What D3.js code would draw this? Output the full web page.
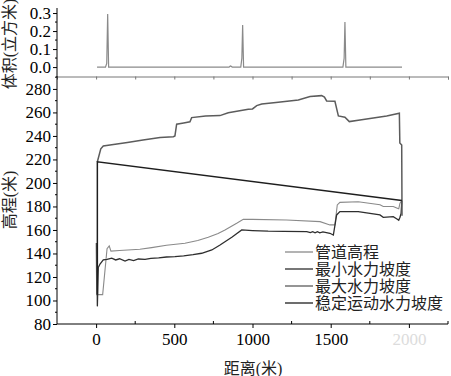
<!DOCTYPE html>
<html>
<head>
<meta charset="utf-8">
<script src="https://cdn.jsdelivr.net/npm/d3@7"></script>
<style>
  body { margin: 0; background: #fff; }
  svg { display: block; }
  text { font-family: 'Liberation Serif', 'Noto Sans CJK SC', serif; }
</style>
</head>
<body>
<div id="chart"></div>
<script>
// volume (top panel)
const volX = [6, 60, 68, 74, 80, 850, 858, 864, 870, 925, 932, 937, 943, 1578, 1586, 1591, 1597, 1956];
const volY = [0, 0, 0.02, 0.294, 0, 0, 0.006, 0.004, 0, 0, 0.05, 0.233, 0, 0, 0.05, 0.25, 0, 0];

// elevation series (bottom panel)
const pipeX = [0, 4, 42, 70, 84, 95, 150, 280, 355, 450, 568, 650, 717, 780, 824, 899, 941, 1000, 1218, 1432, 1495, 1527, 1542, 1559, 1676, 1815, 1836, 1900, 1926, 1935, 1943, 1955];
const pipeY = [149, 105, 105, 144, 146.4, 142, 142.5, 143.6, 145, 147, 148.7, 151, 153.8, 157, 160, 165.7, 169.1, 169, 168.5, 167.1, 164.3, 164.3, 181.3, 183.5, 184, 181.5, 180, 180, 178.5, 178, 182.7, 185];

const minX = [5, 8, 11, 14, 25, 46, 70, 100, 125, 150, 185, 210, 240, 270, 313, 350, 400, 450, 504, 560, 620, 675, 740, 790, 824, 870, 931, 1000, 1100, 1200, 1347, 1370, 1385, 1400, 1415, 1430, 1450, 1495, 1517, 1538, 1559, 1676, 1815, 1836, 1900, 1926, 1935, 1943, 1950, 1955];
const minY = [149, 95, 112, 128, 131, 134.5, 135, 136, 134.5, 135.5, 133.6, 135, 134, 135.3, 135, 135.8, 136.2, 137, 137.3, 138, 139, 140.2, 143, 147, 150, 154, 160, 159.5, 159, 158.8, 158.6, 157.8, 158.6, 157.6, 158.6, 157.5, 158.3, 157.2, 155.7, 172.8, 175.6, 175.6, 172.8, 170.8, 171.3, 169.1, 168.2, 170.8, 174, 185];

const maxX = [8, 14, 30, 46, 100, 200, 300, 409, 494, 504, 515, 560, 600, 611, 700, 792, 845, 973, 1000, 1027, 1059, 1150, 1293, 1368, 1442, 1460, 1474, 1527, 1549, 1591, 1619, 1687, 1858, 1939, 1942, 1954, 1956];
const maxY = [218, 221, 229, 231.5, 232.5, 234.5, 236.5, 238.6, 239.4, 240, 250, 251, 252, 255.6, 257, 257.3, 259.8, 262.7, 263, 265.8, 267.2, 268.5, 270.6, 273.5, 274.3, 273, 269.8, 269.5, 257, 256, 252.2, 253.6, 257, 259.3, 234, 232.3, 172];

const steadyX = [8, 8, 1955];
const steadyY = [105, 218, 185];

const legendNames = ['管道高程', '最小水力坡度', '最大水力坡度', '稳定运动水力坡度'];
const legendColors = ['#8a8a8a', '#2e2e2e', '#5c5c5c', '#1e1e1e'];

const xTicks = [0, 500, 1000, 1500, 2000];
const yTicks = [80, 100, 120, 140, 160, 180, 200, 220, 240, 260, 280];
const volTicks = [0, 0.1, 0.2, 0.3];

const W = 451, H = 376;
const svg = d3.select('#chart').append('svg').attr('width', W).attr('height', H);

const x = d3.scaleLinear().domain([-250, 2250]).range([57, 448]);
const y = d3.scaleLinear().domain([80, 291]).range([324, 76]);
const yv = d3.scaleLinear().domain([-0.055, 0.328]).range([77, 8]);

const zip = (a, b) => a.map((d, i) => [d, b[i]]);

// ---- top panel
const gTop = svg.append('g');
gTop.append('path')
  .datum(zip(volX, volY))
  .attr('fill', 'none')
  .attr('stroke', '#8a8a8a')
  .attr('stroke-width', 1.2)
  .attr('d', d3.line().x((d) => x(d[0])).y((d) => yv(d[1])));

const yvAxis = d3.axisLeft(yv).tickValues(volTicks).tickFormat(d3.format('.1f')).tickSize(4).tickPadding(2);
gTop.append('g').attr('transform', 'translate(57,0)').call(yvAxis)
  .call((g) => g.select('.domain').attr('d', 'M0,8V77'));
gTop.append('g').attr('transform', 'translate(57,0)')
  .selectAll('line').data([0.05, 0.15, 0.25]).join('line')
  .attr('x1', -2).attr('x2', 0).attr('y1', (d) => yv(d)).attr('y2', (d) => yv(d)).attr('stroke', '#000');

// top panel bottom axis (also lower panel top)
const topAxis = d3.axisBottom(x).tickValues(d3.range(0, 2251, 250)).tickFormat('').tickSizeOuter(0).tickSize(3);
gTop.append('g').attr('transform', 'translate(0,76.5)').call(topAxis)
  .call((g) => g.select('.domain').attr('stroke', '#777'))
  .call((g) => g.selectAll('.tick line').attr('stroke', '#777'));

gTop.append('text')
  .attr('transform', 'translate(15,44) rotate(-90)')
  .attr('text-anchor', 'middle')
  .attr('font-size', 16)
  .attr('fill', '#222')
  .text('体积(立方米)');

// ---- bottom panel
const line = d3.line().x((d) => x(d[0])).y((d) => y(d[1]));
const series = [
  { pts: zip(pipeX, pipeY), color: legendColors[0], w: 1.1 },
  { pts: zip(minX, minY), color: legendColors[1], w: 1.3 },
  { pts: zip(maxX, maxY), color: legendColors[2], w: 1.5 },
  { pts: zip(steadyX, steadyY), color: legendColors[3], w: 1.5 },
];
svg.append('g').selectAll('path').data(series).join('path')
  .attr('fill', 'none')
  .attr('stroke', (d) => d.color)
  .attr('stroke-width', (d) => d.w)
  .attr('d', (d) => line(d.pts));

const yAxis = d3.axisLeft(y).tickValues(yTicks).tickSize(4).tickPadding(2).tickSizeOuter(0);
svg.append('g').attr('transform', 'translate(57,0)').call(yAxis)
  .call((g) => g.select('.domain').attr('d', 'M0,76V324'));
svg.append('g').attr('transform', 'translate(57,0)')
  .selectAll('line').data(d3.range(90, 291, 20)).join('line')
  .attr('x1', -2).attr('x2', 0).attr('y1', (d) => y(d)).attr('y2', (d) => y(d)).attr('stroke', '#000');

const xAxis = d3.axisBottom(x).tickValues(xTicks).tickFormat(d3.format('d')).tickSize(4).tickPadding(5).tickSizeOuter(0);
svg.append('g').attr('transform', 'translate(0,324)').call(xAxis)
  .call((g) => g.select('.domain').attr('d', 'M57,0H448'))
  .call((g) => g.selectAll('.tick text').attr('fill', (d) => (d === 2000 ? '#dcdcdc' : '#000')));
svg.append('g').attr('transform', 'translate(0,324)')
  .selectAll('line').data([250, 750, 1250, 1750, 2250]).join('line')
  .attr('x1', (d) => x(d)).attr('x2', (d) => x(d)).attr('y1', 0).attr('y2', -3).attr('stroke', '#000');

svg.selectAll('.tick text').attr('font-size', 17).attr('font-family', "'Liberation Serif', serif");

svg.append('text')
  .attr('transform', 'translate(15,200) rotate(-90)')
  .attr('text-anchor', 'middle')
  .attr('font-size', 16)
  .attr('fill', '#222')
  .text('高程(米)');

svg.append('text')
  .attr('x', 253).attr('y', 374)
  .attr('text-anchor', 'middle')
  .attr('font-size', 16)
  .attr('fill', '#222')
  .text('距离(米)');

// legend
const leg = svg.append('g').selectAll('g').data(legendNames).join('g')
  .attr('transform', (d, i) => `translate(285,${252 + i * 17})`);
leg.append('line').attr('x1', 0).attr('x2', 28).attr('y1', 0).attr('y2', 0)
  .attr('stroke', (d, i) => legendColors[i]).attr('stroke-width', 1.3);
leg.append('text').attr('x', 30).attr('y', 6).attr('font-size', 16).attr('fill', '#222').text((d) => d);
</script>
</body>
</html>
